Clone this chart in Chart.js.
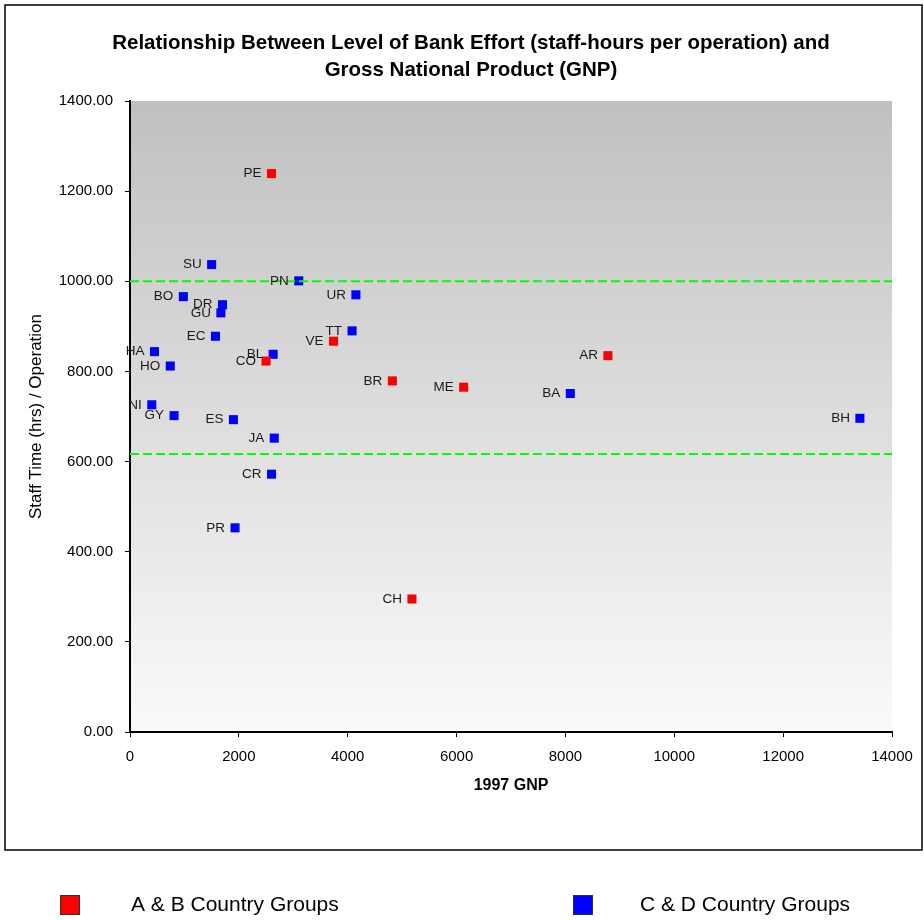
<!DOCTYPE html>
<html>
<head>
<meta charset="utf-8">
<title>Bank Effort vs GNP</title>
<script src="https://cdn.jsdelivr.net/npm/chart.js@4.4.0/dist/chart.umd.min.js"></script>
<style>
  html, body { margin: 0; padding: 0; background: #fff; }
  #wrap { position: relative; width: 924px; height: 920px; }
</style>
</head>
<body>
<div id="wrap"><canvas id="gnpChart" width="924" height="920"></canvas></div>
<script>
// Country groups A & B
const abCodes = ['PE', 'VE', 'CO', 'BR', 'ME', 'AR', 'CH'];
const abGnp = [2600, 3740, 2500, 4820, 6130, 8780, 5180];
const abHours = [1239, 867, 823, 779, 765, 835, 295];

// Country groups C & D
const cdCodes = ['SU', 'PN', 'BO', 'DR', 'GU', 'UR', 'TT', 'EC', 'HA', 'BL', 'HO', 'NI', 'GY', 'ES', 'JA', 'BA', 'BH', 'CR', 'PR'];
const cdGnp = [1500, 3100, 980, 1700, 1670, 4150, 4080, 1570, 450, 2630, 740, 400, 810, 1900, 2650, 8090, 13410, 2600, 1930];
const cdHours = [1037, 1001, 966, 948, 930, 970, 890, 878, 844, 838, 812, 726, 702, 693, 652, 751, 696, 572, 453];

// Horizontal reference levels (staff-hours)
const refLevels = [1000, 617];

const xMin = 0, xMax = 14000, xStep = 2000;
const yMin = 0, yMax = 1400, yStep = 200;

const titleLines = [
    'Relationship Between Level of Bank Effort (staff-hours per operation) and',
    'Gross National Product (GNP)'
];
const legendNames = ['A & B Country Groups', 'C & D Country Groups'];

const toPoints = (xs, ys) => xs.map((x, i) => ({ x: x, y: ys[i] }));

const FONT = 'Arial, "Liberation Sans", sans-serif';

// Draws the frame, plot background, point labels, title and legend
const chartDecor = {
    id: 'chartDecor',
    beforeDraw(chart) {
        const ctx = chart.ctx;
        const a = chart.chartArea;
        ctx.save();
        ctx.fillStyle = '#ffffff';
        ctx.fillRect(0, 0, chart.width, chart.height);
        const grad = ctx.createLinearGradient(0, a.top, 0, a.bottom);
        grad.addColorStop(0, '#c0c0c0');
        grad.addColorStop(1, '#fafafa');
        ctx.fillStyle = grad;
        ctx.fillRect(a.left, a.top, a.right - a.left, a.bottom - a.top);
        ctx.restore();
    },
    afterDatasetsDraw(chart) {
        const ctx = chart.ctx;
        ctx.save();
        ctx.font = '13.5px ' + FONT;
        ctx.fillStyle = '#1a1a1a';
        ctx.textAlign = 'right';
        ctx.textBaseline = 'middle';
        chart.data.datasets.forEach((ds, di) => {
            if (!ds.codes) return;
            chart.getDatasetMeta(di).data.forEach((pt, i) => {
                ctx.fillText(ds.codes[i], pt.x - 10, pt.y);
            });
        });
        ctx.restore();
    },
    afterDraw(chart) {
        const ctx = chart.ctx;
        ctx.save();
        // outer frame
        ctx.strokeStyle = '#000000';
        ctx.lineWidth = 1.5;
        ctx.strokeRect(5, 5, 917, 845);

        // title
        ctx.fillStyle = '#000000';
        ctx.font = 'bold 20.5px ' + FONT;
        ctx.textAlign = 'center';
        ctx.textBaseline = 'middle';
        ctx.fillText(titleLines[0], 471, 43);
        ctx.fillText(titleLines[1], 471, 70);

        // legend
        const items = [
            { x: 60, color: '#ff0000', text: legendNames[0], tx: 131 },
            { x: 573, color: '#0000ff', text: legendNames[1], tx: 640 }
        ];
        ctx.font = '21px ' + FONT;
        ctx.textAlign = 'left';
        items.forEach(it => {
            ctx.fillStyle = it.color;
            ctx.fillRect(it.x, 895, 20, 20);
            ctx.strokeStyle = '#333333';
            ctx.lineWidth = 1;
            ctx.strokeRect(it.x + 0.5, 895.5, 19, 19);
            ctx.fillStyle = '#000000';
            ctx.fillText(it.text, it.tx, 905);
        });
        ctx.restore();
    }
};

const refDatasets = refLevels.map(level => ({
    type: 'line',
    data: [{ x: xMin, y: level }, { x: xMax, y: level }],
    borderColor: '#00ff00',
    borderWidth: 2,
    borderDash: [9, 4],
    pointRadius: 0,
    order: 0
}));

const ctx = document.getElementById('gnpChart').getContext('2d');
const chartInstance = new Chart(ctx, {
    type: 'scatter',
    data: {
        datasets: [
            {
                label: legendNames[0],
                codes: abCodes,
                data: toPoints(abGnp, abHours),
                backgroundColor: '#ff0000',
                borderColor: '#ff0000',
                borderWidth: 0,
                pointStyle: 'rect',
                pointRadius: 6.4,
                order: 1
            },
            {
                label: legendNames[1],
                codes: cdCodes,
                data: toPoints(cdGnp, cdHours),
                backgroundColor: '#0000ff',
                borderColor: '#0000ff',
                borderWidth: 0,
                pointStyle: 'rect',
                pointRadius: 6.4,
                order: 2
            },
            ...refDatasets
        ]
    },
    options: {
        responsive: false,
        animation: false,
        layout: {
            padding: { left: 26, top: 101, right: 32, bottom: 125 }
        },
        plugins: {
            legend: { display: false },
            title: { display: false },
            tooltip: { enabled: false }
        },
        scales: {
            x: {
                type: 'linear',
                min: xMin,
                max: xMax,
                ticks: {
                    stepSize: xStep,
                    padding: 11,
                    color: '#000000',
                    font: { family: FONT, size: 15 },
                    callback: v => String(v)
                },
                grid: {
                    drawOnChartArea: false,
                    drawTicks: true,
                    tickLength: 5,
                    color: '#000000'
                },
                border: { display: true, color: '#000000', width: 2 },
                title: {
                    display: true,
                    text: '1997 GNP',
                    color: '#000000',
                    font: { family: FONT, size: 16, weight: 'bold' },
                    padding: { top: 4, bottom: 0 }
                },
                afterFit(scale) { scale.height = 63; }
            },
            y: {
                type: 'linear',
                min: yMin,
                max: yMax,
                ticks: {
                    stepSize: yStep,
                    padding: 12,
                    color: '#000000',
                    font: { family: FONT, size: 15 },
                    callback: v => Number(v).toFixed(2)
                },
                grid: {
                    drawOnChartArea: false,
                    drawTicks: true,
                    tickLength: 5,
                    color: '#000000'
                },
                border: { display: true, color: '#000000', width: 2 },
                title: {
                    display: true,
                    text: 'Staff Time (hrs) / Operation',
                    color: '#000000',
                    font: { family: FONT, size: 17 },
                    padding: { top: 0, bottom: 4 }
                },
                afterFit(scale) { scale.width = 104; }
            }
        }
    },
    plugins: [chartDecor]
});
</script>
</body>
</html>
